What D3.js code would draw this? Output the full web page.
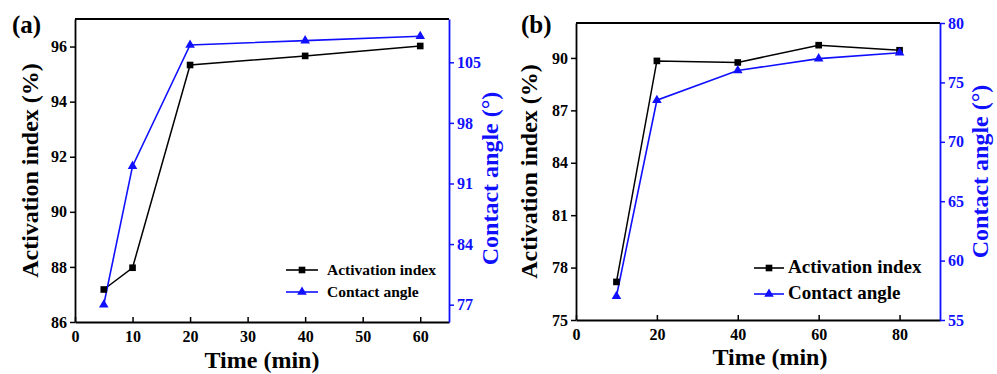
<!DOCTYPE html>
<html>
<head>
<meta charset="utf-8">
<script src="https://cdn.jsdelivr.net/npm/d3@7"></script>
<style>
  body { margin: 0; background: #fff; }
  svg { display: block; }
</style>
</head>
<body>
<svg id="chart" width="997" height="374"></svg>
<script>
// panel (a)
var timeA = [5, 10, 20, 40, 60];
var activationA = [87.18, 87.97, 95.33, 95.66, 96.02];
var contactA = [77.0, 93.0, 107.0, 107.5, 108.0];
var xTicksA = [0, 10, 20, 30, 40, 50, 60];
var leftTicksA = [86, 88, 90, 92, 94, 96];
var rightTicksA = [77, 84, 91, 98, 105];

// panel (b)
var timeB = [10, 20, 40, 60, 80];
var activationB = [77.18, 89.83, 89.74, 90.73, 90.44];
var contactB = [57.0, 73.5, 76.0, 77.0, 77.5];
var xTicksB = [0, 20, 40, 60, 80];
var leftTicksB = [75, 78, 81, 84, 87, 90];
var rightTicksB = [55, 60, 65, 70, 75, 80];

var legendNames = ["Activation index", "Contact angle"];
var blue = "#1010ff";
var serif = "'Liberation Serif', 'Times New Roman', serif";

var svg = d3.select("#chart");

function drawPanel(p) {
    var g = svg.append("g");

    var x = d3.scaleLinear().domain(p.xDomain).range([p.left, p.right]);
    var yL = d3.scaleLinear().domain(p.leftDomain).range([p.bottom, p.top]);
    var yR = d3.scaleLinear().domain(p.rightDomain).range([p.bottom, p.top]);

    // box top line
    g.append("line")
        .attr("x1", p.left).attr("x2", p.right)
        .attr("y1", p.top).attr("y2", p.top)
        .attr("stroke", "#000").attr("stroke-width", 1.8);

    var xAxis = g.append("g")
        .attr("transform", "translate(0," + p.bottom + ")")
        .call(d3.axisBottom(x).tickValues(p.xTicks).tickSizeInner(-5).tickSizeOuter(0).tickPadding(9));

    var leftAxis = g.append("g")
        .attr("transform", "translate(" + p.left + ",0)")
        .call(d3.axisLeft(yL).tickValues(p.leftTicks).tickSizeInner(5).tickSizeOuter(0).tickPadding(3));

    var rightAxis = g.append("g")
        .attr("transform", "translate(" + p.right + ",0)")
        .call(d3.axisRight(yR).tickValues(p.rightTicks).tickSizeInner(5).tickSizeOuter(0).tickPadding(3));

    [xAxis, leftAxis].forEach(function(a) {
        a.select(".domain").attr("stroke", "#000").attr("stroke-width", 1.8);
        a.selectAll(".tick line").attr("stroke", "#000").attr("stroke-width", 1.5);
        a.selectAll("text").attr("fill", "#000");
    });
    rightAxis.select(".domain").attr("stroke", blue).attr("stroke-width", 1.8);
    rightAxis.selectAll(".tick line").attr("stroke", blue).attr("stroke-width", 1.5);
    rightAxis.selectAll("text").attr("fill", blue);
    [xAxis, leftAxis, rightAxis].forEach(function(a) {
        a.attr("font-family", serif).attr("font-size", 16).attr("font-weight", "bold");
    });

    // lines
    var lineL = d3.line().x(function(d, i) { return x(p.time[i]); }).y(function(d) { return yL(d); });
    var lineR = d3.line().x(function(d, i) { return x(p.time[i]); }).y(function(d) { return yR(d); });

    g.append("path").datum(p.activation)
        .attr("d", lineL).attr("fill", "none").attr("stroke", "#000").attr("stroke-width", 1.5);
    g.append("path").datum(p.contact)
        .attr("d", lineR).attr("fill", "none").attr("stroke", blue).attr("stroke-width", 1.6);

    var sq = d3.symbol().type(d3.symbolSquare).size(44);
    var tri = d3.symbol().type(d3.symbolTriangle).size(40);

    g.selectAll(".sq").data(p.activation).enter().append("path")
        .attr("class", "sq")
        .attr("d", sq)
        .attr("transform", function(d, i) { return "translate(" + x(p.time[i]) + "," + yL(d) + ")"; })
        .attr("fill", "#000");
    g.selectAll(".tri").data(p.contact).enter().append("path")
        .attr("class", "tri")
        .attr("d", tri)
        .attr("transform", function(d, i) { return "translate(" + x(p.time[i]) + "," + yR(d) + ")"; })
        .attr("fill", blue);

    // axis titles
    g.append("text")
        .attr("x", (p.left + p.right) / 2 + p.xTitleShift).attr("y", p.xTitleY)
        .attr("text-anchor", "middle").attr("font-size", 24)
        .text("Time (min)");
    g.append("text")
        .attr("transform", "translate(" + p.leftTitleX + "," + ((p.top + p.bottom) / 2) + ") rotate(-90)")
        .attr("text-anchor", "middle").attr("font-size", 24)
        .text("Activation index (%)");
    g.append("text")
        .attr("transform", "translate(" + p.rightTitleX + "," + ((p.top + p.bottom) / 2 + p.rightTitleShift) + ") rotate(-90)")
        .attr("text-anchor", "middle").attr("font-size", 24).attr("fill", blue)
        .text("Contact angle (\u00b0)");

    // panel label
    g.append("text")
        .attr("x", p.labelX).attr("y", 33)
        .attr("font-size", 25)
        .text(p.label);

    // legend
    var leg = g.append("g");
    legendNames.forEach(function(name, i) {
        var yy = p.legY[i];
        var col = i === 0 ? "#000" : blue;
        leg.append("line")
            .attr("x1", p.legX).attr("x2", p.legX + p.legLen)
            .attr("y1", yy).attr("y2", yy)
            .attr("stroke", col).attr("stroke-width", 1.6);
        leg.append("path")
            .attr("d", i === 0 ? sq : tri)
            .attr("transform", "translate(" + (p.legX + p.legLen / 2) + "," + yy + ")")
            .attr("fill", col);
        leg.append("text")
            .attr("x", p.legX + p.legLen + p.legGap).attr("y", yy + 5)
            .attr("font-size", p.legFont)
            .text(name);
    });

    g.selectAll("text")
        .style("font-family", serif)
        .style("font-weight", "bold");
}

drawPanel({
    label: "(a)", labelX: 12,
    left: 75, right: 449, top: 19, bottom: 322,
    xDomain: [0, 65], leftDomain: [86, 97], rightDomain: [75, 110],
    xTicks: xTicksA, leftTicks: leftTicksA, rightTicks: rightTicksA,
    time: timeA, activation: activationA, contact: contactA,
    xTitleY: 368, xTitleShift: 0, leftTitleX: 38, rightTitleX: 498, rightTitleShift: 8,
    legX: 286, legLen: 32, legGap: 9, legY: [270, 292], legFont: 15.5
});

drawPanel({
    label: "(b)", labelX: 521,
    left: 576, right: 940, top: 23, bottom: 320,
    xDomain: [0, 90], leftDomain: [75, 92], rightDomain: [55, 80],
    xTicks: xTicksB, leftTicks: leftTicksB, rightTicks: rightTicksB,
    time: timeB, activation: activationB, contact: contactB,
    xTitleY: 365, xTitleShift: 12, leftTitleX: 537, rightTitleX: 988, rightTitleShift: 0,
    legX: 754, legLen: 30, legGap: 4, legY: [268, 294], legFont: 19
});
</script>
</body>
</html>
